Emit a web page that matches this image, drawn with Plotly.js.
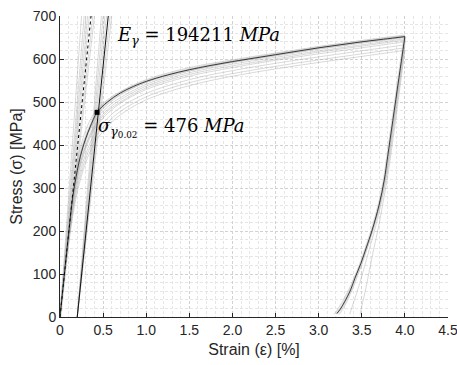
<!DOCTYPE html>
<html>
<head>
<meta charset="utf-8">
<script src="https://cdn.plot.ly/plotly-3.0.1.min.js"></script>
<style>html,body{margin:0;padding:0;background:#fff;}#chart{width:457px;height:365px;}</style>
</head>
<body>
<div id="chart"></div>
<script>
// ---- Data ----
const xTickVals = [0, 0.5, 1.0, 1.5, 2.0, 2.5, 3.0, 3.5, 4.0, 4.5];
const xTickText = ["0", "0.5", "1.0", "1.5", "2.0", "2.5", "3.0", "3.5", "4.0", "4.5"];
const yTickVals = [0, 100, 200, 300, 400, 500, 600, 700];

// main (black) loading curve
const mainStrain = [0, 0.10, 0.15, 0.20, 0.25, 0.30, 0.35, 0.43, 0.55, 0.70, 0.85, 1.00, 1.25, 1.50, 1.75, 2.00, 2.25, 2.50, 2.75, 3.00, 3.25, 3.50, 3.75, 4.00];
const mainStress = [0, 194, 282, 340, 384, 416, 442, 476, 500, 521, 536, 548, 563, 575, 585, 594, 602, 610, 618, 626, 633, 640, 646, 652];

// main (black) unloading curve
const unloadStrain = [4.00, 3.93, 3.86, 3.80, 3.76, 3.70, 3.62, 3.55, 3.49, 3.42, 3.37, 3.30, 3.25, 3.21];
const unloadStress = [652, 555, 457, 373, 318, 260, 202, 160, 125, 90, 63, 35, 18, 8];

// elastic line (slope E) and 0.2% offset line
const eLineStrain = [0, 0.36];
const eLineStress = [0, 700];
const offsetStrain = [0.2, 0.56];
const offsetStress = [0, 700];

// yield point
const yieldStrain = [0.43];
const yieldStress = [476];

// grey specimen loading curves
const greyStrain = [0, 0.1, 0.2, 0.3, 0.4, 0.55, 0.7, 1.0, 1.5, 2.0, 2.5, 3.0, 3.5, 4.0];
const grey1 = [0, 200, 360, 435, 475, 505, 524, 552, 580, 598, 614, 629, 643, 656];
const grey2 = [0, 195, 350, 420, 462, 494, 516, 546, 576, 595, 611, 626, 640, 654];
const grey3 = [0, 190, 330, 400, 446, 482, 505, 537, 568, 588, 604, 619, 633, 647];
const grey4 = [0, 185, 320, 392, 437, 473, 497, 529, 560, 580, 597, 612, 626, 640];
const grey5 = [0, 180, 310, 380, 425, 462, 487, 520, 552, 573, 590, 605, 619, 633];
const grey6 = [0, 175, 300, 370, 415, 452, 478, 512, 545, 566, 583, 598, 612, 626];
const grey7 = [0, 170, 290, 360, 405, 443, 470, 505, 538, 560, 577, 592, 606, 620];
const grey8 = [0, 188, 345, 415, 455, 488, 510, 541, 572, 592, 608, 623, 637, 651];
const grey9 = [0, 182, 325, 398, 442, 478, 500, 533, 564, 584, 600, 616, 630, 644];

// grey elastic lines (strain where they reach 700 MPa)
const greyETop = [0.25, 0.28, 0.30, 0.32, 0.34, 0.38, 0.40];
// grey offset lines (strain where they reach 700 MPa)
const greyOffTop = [0.48, 0.50, 0.52, 0.54, 0.58, 0.60];

// grey unloading curves
const greyUnStrain1 = [4.00, 3.86, 3.77, 3.68, 3.58, 3.50, 3.40, 3.30, 3.22, 3.18];
const greyUnStress1 = [640, 440, 318, 240, 175, 130, 85, 45, 18, 6];
const greyUnStrain2 = [4.00, 3.87, 3.79, 3.72, 3.64, 3.57, 3.50, 3.44, 3.39, 3.36];
const greyUnStress2 = [630, 440, 330, 260, 195, 145, 95, 55, 25, 6];
const greyUnStrain3 = [4.00, 3.88, 3.81, 3.75, 3.69, 3.63, 3.58, 3.54, 3.50, 3.48];
const greyUnStress3 = [620, 440, 340, 270, 205, 150, 100, 60, 25, 6];
const greyUnStrain4 = [4.00, 3.87, 3.78, 3.70, 3.61, 3.53, 3.45, 3.36, 3.28, 3.24];
const greyUnStress4 = [648, 460, 335, 255, 190, 140, 95, 50, 18, 6];

// ---- Build traces ----
const greyCol = 'rgba(160,160,160,0.4)';
const traces = [];
[grey1, grey2, grey3, grey4, grey5, grey6, grey7, grey8, grey9].forEach(g => {
  traces.push({x: greyStrain, y: g, mode: 'lines', line: {color: greyCol, width: 1, shape: 'spline'}, hoverinfo: 'skip'});
});
greyETop.forEach(t => {
  traces.push({x: [0, t], y: [0, 700], mode: 'lines', line: {color: greyCol, width: 1}, hoverinfo: 'skip'});
});
greyOffTop.forEach(t => {
  traces.push({x: [0.2, t], y: [0, 700], mode: 'lines', line: {color: greyCol, width: 1}, hoverinfo: 'skip'});
});
[[greyUnStrain1, greyUnStress1], [greyUnStrain2, greyUnStress2], [greyUnStrain3, greyUnStress3], [greyUnStrain4, greyUnStress4]].forEach(p => {
  traces.push({x: p[0], y: p[1], mode: 'lines', line: {color: greyCol, width: 1, shape: 'spline'}, hoverinfo: 'skip'});
});
// light grey band under main curves
traces.push({x: mainStrain, y: mainStress, mode: 'lines', line: {color: 'rgba(190,190,190,0.5)', width: 3, shape: 'spline'}});
traces.push({x: unloadStrain, y: unloadStress, mode: 'lines', line: {color: 'rgba(190,190,190,0.5)', width: 3, shape: 'spline'}});
// black lines
traces.push({x: eLineStrain, y: eLineStress, mode: 'lines', line: {color: '#000', width: 1, dash: 'dot'}});
traces.push({x: offsetStrain, y: offsetStress, mode: 'lines', line: {color: '#111', width: 1}});
traces.push({x: mainStrain, y: mainStress, mode: 'lines', line: {color: '#111', width: 0.8, shape: 'spline'}});
traces.push({x: unloadStrain, y: unloadStress, mode: 'lines', line: {color: '#111', width: 0.8, shape: 'spline'}});
traces.push({x: yieldStrain, y: yieldStress, mode: 'markers', marker: {color: '#000', size: 5, symbol: 'square'}});

const tickFont = {family: 'Liberation Sans, Arial, sans-serif', size: 14, color: '#262626'};
const titleFont = {family: 'Liberation Sans, Arial, sans-serif', size: 16, color: '#262626'};
const layout = {
  width: 457, height: 365,
  margin: {l: 60, r: 9, t: 16, b: 48},
  paper_bgcolor: '#fff', plot_bgcolor: '#fff',
  showlegend: false,
  font: tickFont,
  xaxis: {
    range: [0, 4.5], tickvals: xTickVals, ticktext: xTickText,
    showline: true, linecolor: '#262626', linewidth: 1,
    ticks: 'inside', ticklen: 4, tickcolor: '#262626',
    ticklabeloverflow: 'allow',
    showgrid: true, gridcolor: '#d2d2d2', griddash: '3px,2px', gridwidth: 1,
    minor: {dtick: 0.1, showgrid: true, gridcolor: '#e6e6e6', griddash: '3px,2px', gridwidth: 1},
    zeroline: false, tickfont: tickFont,
    title: {text: 'Strain (ε) [%]', font: titleFont, standoff: 7}
  },
  yaxis: {
    range: [0, 700], tickvals: yTickVals,
    showline: true, linecolor: '#262626', linewidth: 1,
    ticks: 'inside', ticklen: 4, tickcolor: '#262626',
    showgrid: true, gridcolor: '#d2d2d2', griddash: '3px,2px', gridwidth: 1,
    minor: {dtick: 20, showgrid: true, gridcolor: '#e6e6e6', griddash: '3px,2px', gridwidth: 1},
    zeroline: false, tickfont: tickFont,
    title: {text: 'Stress (σ) [MPa]', font: titleFont, standoff: 6}
  },
  annotations: [
    {x: 0.64, y: 654, xref: 'x', yref: 'y', xanchor: 'left', yanchor: 'middle', showarrow: false,
     text: '<i>E</i><sub><i>γ</i></sub> = 194211 <i>MPa</i>',
     font: {family: 'DejaVu Serif, serif', size: 18, color: '#000'}},
    {x: 0.42, y: 440, xref: 'x', yref: 'y', xanchor: 'left', yanchor: 'middle', showarrow: false,
     text: '<i>σ</i><sub><i>γ</i><sub>0.02</sub></sub> = 476 <i>MPa</i>',
     font: {family: 'DejaVu Serif, serif', size: 18, color: '#000'}}
  ]
};
Plotly.newPlot('chart', traces, layout, {displayModeBar: false, staticPlot: true});
</script>
</body>
</html>
